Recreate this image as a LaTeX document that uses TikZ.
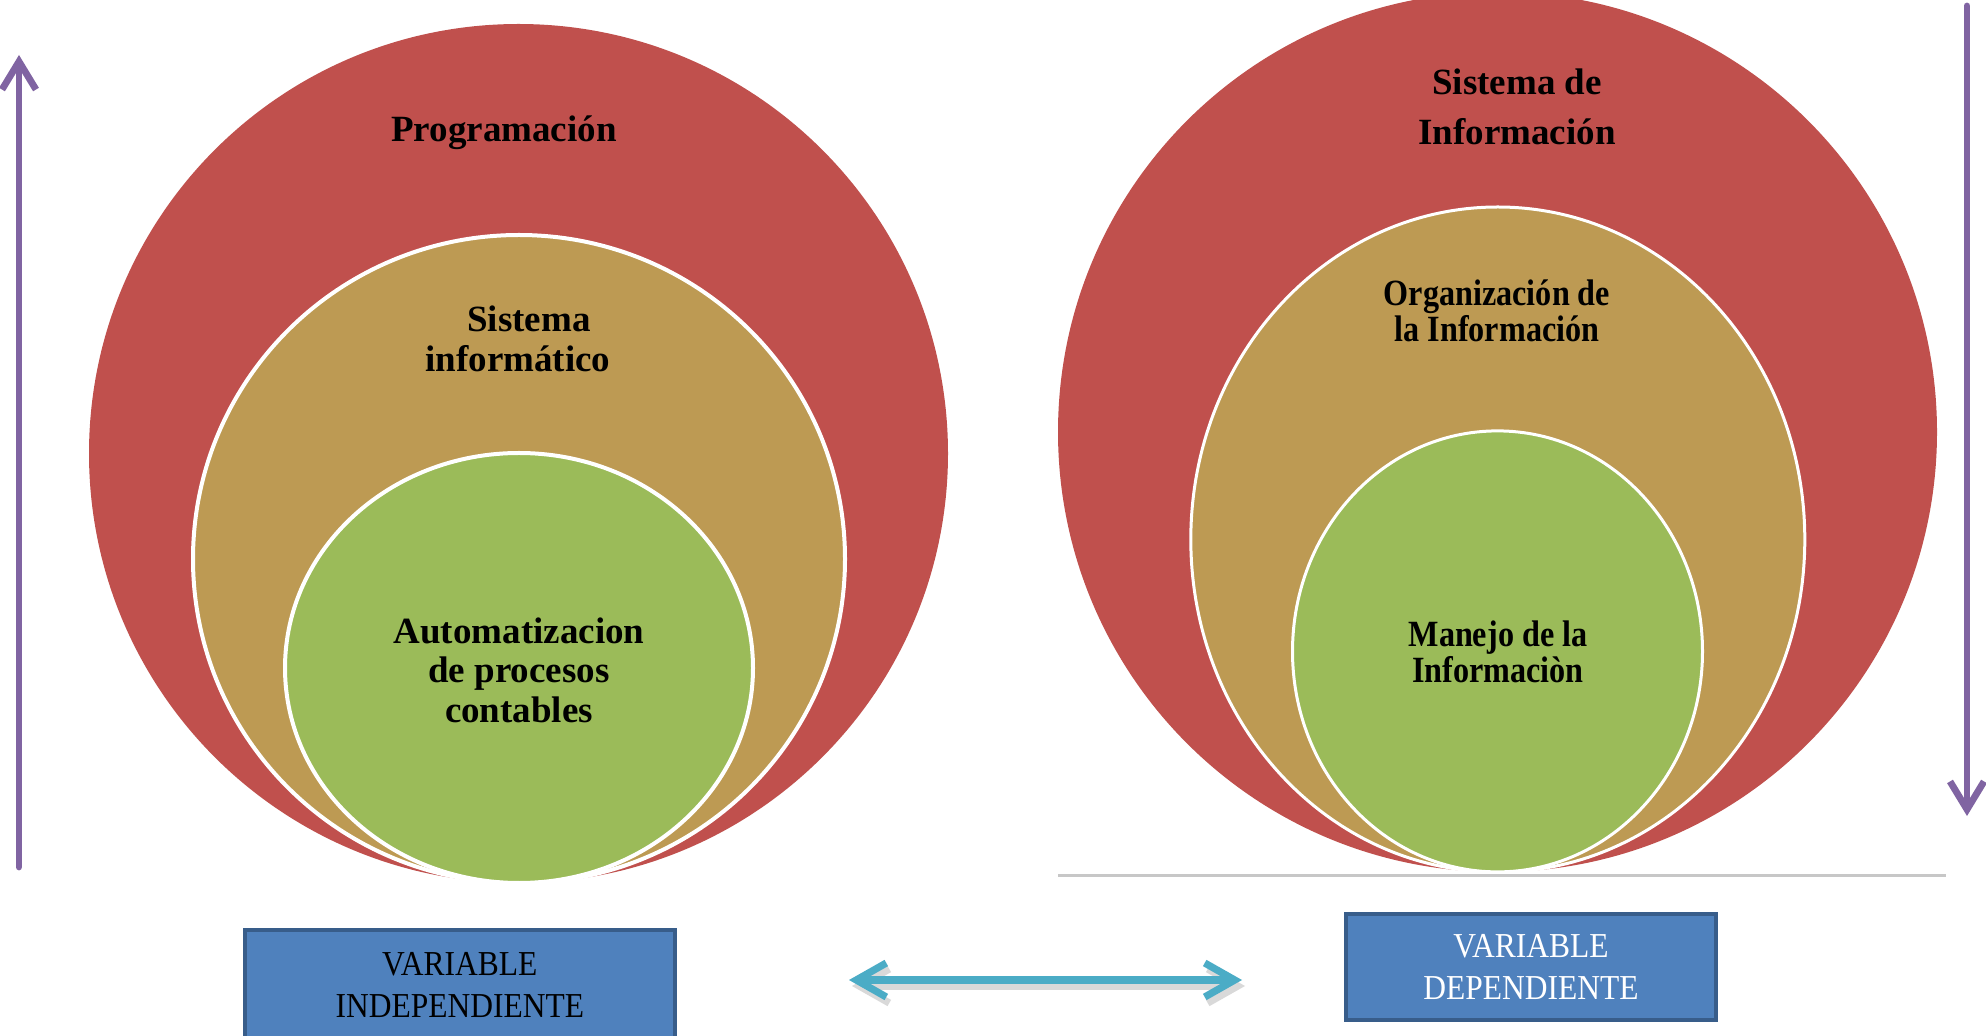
\documentclass[tikz,border=0pt]{standalone}
\usepackage{fontspec}
\setmainfont{Liberation Serif}
\newfontfamily\condfont[FakeStretch=0.87]{Liberation Serif}
\newfontfamily\boxfont[FakeStretch=0.9]{Liberation Serif}
\usetikzlibrary{arrows.meta}
\definecolor{cred}{HTML}{C0504D}
\definecolor{ctan}{HTML}{BD9A53}
\definecolor{cgreen}{HTML}{9BBB59}
\definecolor{cblue}{HTML}{4F81BD}
\definecolor{cblueb}{HTML}{385D8A}
\definecolor{cpurple}{HTML}{8064A2}
\definecolor{ccyan}{HTML}{4BACC6}
\tikzset{
  redring/.style={fill=cred},
  tanring/.style={fill=ctan, draw=white, line width=2pt},
  greenring/.style={fill=cgreen, draw=white, line width=2pt},
  bigtxt/.style={font=\bfseries\fontsize{18.5}{19.8}\selectfont, align=center, text=black, inner sep=0pt},
  condtxt/.style={font=\condfont\bfseries\fontsize{18.5}{18}\selectfont, align=center, text=black, inner sep=0pt},
  varbox/.style={draw=cblueb, fill=cblue, line width=2pt, align=center, inner sep=0pt,
    font=\boxfont\fontsize{17.5}{21}\selectfont},
  purplearrow/.style={draw=cpurple, line width=3.4pt, line cap=round, line join=round,
    -{Straight Barb[length=14pt,width=17pt]}},
  cyanarrow/.style={draw=ccyan, line width=3.6pt, line cap=round, line join=round,
    {Straight Barb[length=15pt,width=17pt]}-{Straight Barb[length=15pt,width=17pt]}},
  shadowarrow/.style={draw=black!15, line width=3.6pt, line cap=round, line join=round,
    {Straight Barb[length=15pt,width=17pt]}-{Straight Barb[length=15pt,width=17pt]}},
}
\begin{document}
\begin{tikzpicture}[x=0.5pt,y=-0.5pt]
\useasboundingbox (0,0) rectangle (1986,1036);
\clip (0,0) rectangle (1986,1036);
\fill[white] (0,0) rectangle (1986,1036);

% left nested circles
\fill[redring] (518.5,453.5) ellipse [x radius=429.5, y radius=429.5];
\filldraw[tanring] (519,559) ellipse [x radius=326, y radius=324];
\filldraw[greenring] (519,668) ellipse [x radius=234, y radius=215];

% right nested circles
\draw[black!22, line width=1.2pt] (1058,875.5) -- (1946,875.5);
\fill[redring] (1497.5,432) ellipse [x radius=439.5, y radius=440];
\filldraw[tanring, line width=1.5pt] (1497.8,539.5) ellipse [x radius=307, y radius=332.5];
\filldraw[greenring, line width=1.5pt] (1497.5,651.4) ellipse [x radius=205, y radius=220.5];

% texts left
\node[bigtxt] (prog) at (504,133) {Programación};
\node[bigtxt] (sisinf) at (518,339) {\hspace*{11pt}Sistema\\informático};
\node[bigtxt] (auto) at (519,670) {Automatizacion\\de procesos\\contables};

% texts right
\node[bigtxt, font=\bfseries\fontsize{18.5}{25}\selectfont] (sisde) at (1517,106.5) {Sistema de\\Información};
\node[condtxt] (org) at (1497,311) {Organización de\\la Información};
\node[condtxt] (man) at (1498,652) {Manejo de la\\Informaciòn};

% boxes
\node[varbox, text=black, minimum width=214.75pt, minimum height=55pt] (vi) at (459.8,985) {VARIABLE\\INDEPENDIENTE};
\node[varbox, text=white, minimum width=184.6pt, minimum height=52.8pt] (vd) at (1531,966.7) {VARIABLE\\DEPENDIENTE};

% arrows
\coordinate (up0) at (19,867);
\coordinate (up1) at (19,55);
\draw[purplearrow] (up0) -- (up1);
\coordinate (dn0) at (1967,6);
\coordinate (dn1) at (1967,816);
\draw[purplearrow] (dn0) -- (dn1);

\coordinate (dl) at (849,980);
\coordinate (dr) at (1242,980);
\coordinate (dls) at (852,986);
\coordinate (drs) at (1245,986);
\draw[shadowarrow] (dls) -- (drs);
\draw[cyanarrow] (dl) -- (dr);
\end{tikzpicture}
\end{document}
